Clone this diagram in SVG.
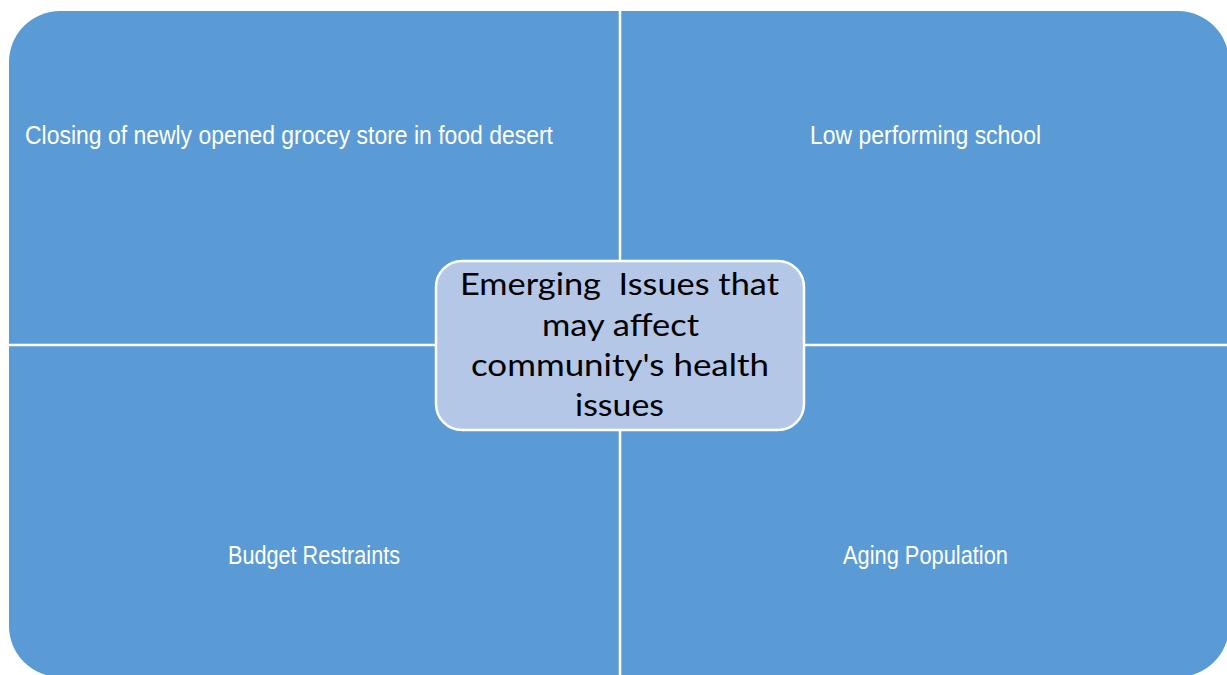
<svg xmlns="http://www.w3.org/2000/svg" width="1227" height="675" viewBox="0 0 1227 675">
<style>
.q{fill:#5B9BD5;}
.ql{font-family:"Liberation Sans Narrow","Liberation Sans",Arial,sans-serif;font-size:25px;fill:#FFFFFF;}
.ct{font-family:Lato,"Open Sans",sans-serif;font-size:30px;fill:#000000;text-anchor:middle;white-space:pre;}
</style>
<rect width="1227" height="675" fill="#FFFFFF"/>
<g id="quadrants">
<g id="q-topleft"><path class="q" d="M620 11 H60 A51 51 0 0 0 9 62 V345 H620 Z"/>
<text class="ql" x="25" y="144" textLength="528" lengthAdjust="spacingAndGlyphs">Closing of newly opened grocey store in food desert</text></g>
<g id="q-topright"><path class="q" d="M620 11 H1178 A51 51 0 0 1 1229 62 V345 H620 Z"/>
<text class="ql" x="925.5" y="144" text-anchor="middle" textLength="231" lengthAdjust="spacingAndGlyphs">Low performing school</text></g>
<g id="q-bottomleft"><path class="q" d="M620 677 H60 A51 51 0 0 1 9 626 V345 H620 Z"/>
<text class="ql" x="314" y="564" text-anchor="middle" textLength="172" lengthAdjust="spacingAndGlyphs">Budget Restraints</text></g>
<g id="q-bottomright"><path class="q" d="M620 677 H1178 A51 51 0 0 0 1229 626 V345 H620 Z"/>
<text class="ql" x="925.5" y="564" text-anchor="middle" textLength="165" lengthAdjust="spacingAndGlyphs">Aging Population</text></g>
</g>
<g id="connectors">
<line x1="620" y1="0" x2="620" y2="675" stroke="#FFFFFF" stroke-width="2.5"/>
<line x1="0" y1="345" x2="1227" y2="345" stroke="#FFFFFF" stroke-width="2.5"/>
</g>
<g id="center">
<rect x="436" y="261" width="368" height="169" rx="26" ry="26" fill="#B4C7E7" stroke="#FFFFFF" stroke-width="2.5"/>
<text class="ct" x="619.5" y="295" xml:space="preserve" textLength="319" lengthAdjust="spacingAndGlyphs">Emerging  Issues that</text>
<text class="ct" x="620.5" y="336" textLength="157" lengthAdjust="spacingAndGlyphs">may affect</text>
<text class="ct" x="620" y="376" textLength="298" lengthAdjust="spacingAndGlyphs">community's health</text>
<text class="ct" x="619.5" y="416" textLength="89" lengthAdjust="spacingAndGlyphs">issues</text>
</g>
</svg>
